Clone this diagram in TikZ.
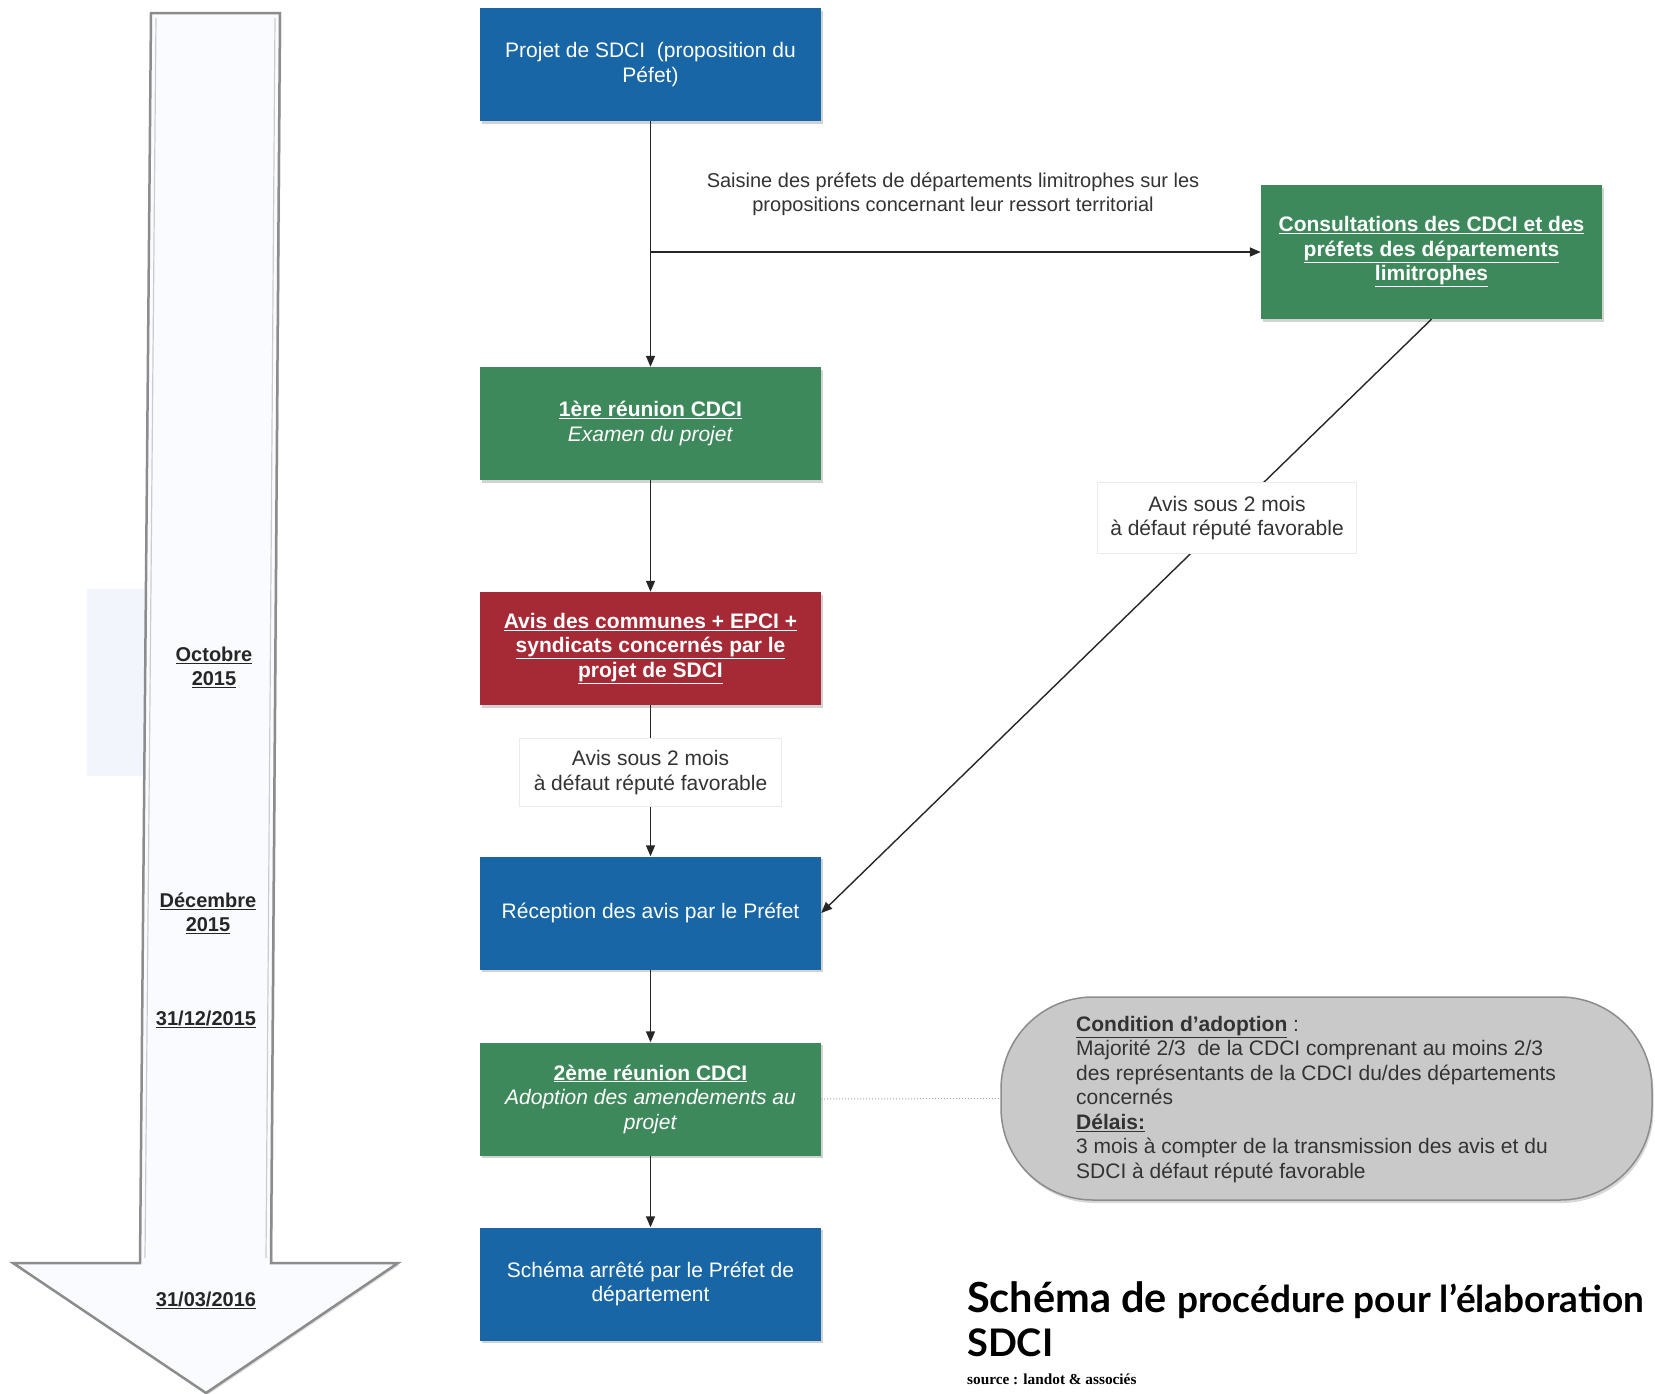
\documentclass[tikz,border=0pt]{standalone}
\usepackage{fontspec}
\setmainfont{Liberation Sans}
\newfontfamily\titlefont{Lato}
\newfontfamily\srcfont{Liberation Serif}
\usetikzlibrary{arrows.meta,shadows}

\definecolor{sdblue}{RGB}{24,102,166}
\definecolor{sdgreen}{RGB}{62,137,92}
\definecolor{sdred}{RGB}{166,42,54}
\definecolor{notefill}{RGB}{201,201,201}
\definecolor{noteedge}{RGB}{140,140,140}
\definecolor{timefill}{RGB}{250,251,254}
\definecolor{timeband}{RGB}{242,246,252}

\begin{document}
\begin{tikzpicture}[x=1pt,y=-1pt,
  every node/.style={font=\fontsize{21}{24.5}\selectfont},
  procbox/.style={minimum width=341pt, minimum height=113pt, text=white,
    align=center, inner sep=4pt,
    drop shadow={shadow xshift=1.5pt, shadow yshift=-2.5pt, opacity=0.35}},
  bluebox/.style={procbox, fill=sdblue},
  greenbox/.style={procbox, fill=sdgreen},
  redbox/.style={procbox, fill=sdred},
  flow/.style={draw=black!85, line width=1.4pt, -{Triangle[length=11pt,width=9pt]}},
  delaybox/.style={fill=white, draw=black!8, align=center, text=black!80, inner sep=3pt},
  datelabel/.style={font=\fontsize{20}{24}\selectfont\bfseries, text=black!85, align=center}
]
\useasboundingbox[fill=white] (0,0) rectangle (1655,1393);

% timeline arrow on the left
\fill[timeband] (87,589) rectangle (200,776);
\draw[draw=black!45, line width=2.5pt, fill=timefill, line join=miter,
  drop shadow={shadow xshift=1.5pt, shadow yshift=-2pt, opacity=0.25}]
  (151,13) -- (280,13) -- (271,1263) -- (398,1263) -- (206,1393)
  -- (13,1263) -- (140,1263) -- cycle;
\draw[draw=black!20, line width=1.2pt] (156,18) -- (145,1258);
\draw[draw=black!20, line width=1.2pt] (275,18) -- (266,1258);

\node[datelabel] (oct) at (214,667) {\underline{Octobre}\\\underline{2015}};
\node[datelabel] (dec) at (208,913) {\underline{Décembre}\\\underline{2015}};
\node[datelabel] (d1) at (206,1019) {\underline{31/12/2015}};
\node[datelabel] (d2) at (206,1300) {\underline{31/03/2016}};

% main column
\node[bluebox] (projet) at (650.5,64.5) {Projet de SDCI\ \ (proposition du\\Péfet)};
\node[greenbox] (cdci1) at (650.5,423.5)
  {\textbf{\underline{1ère réunion CDCI}}\\\textit{Examen du projet}};
\node[redbox] (avis) at (650.5,648.5)
  {\textbf{\underline{Avis des communes + EPCI +}}\\\textbf{\underline{syndicats concernés par le}}\\\textbf{\underline{projet de SDCI}}};
\node[bluebox] (recep) at (650.5,913) {Réception des avis par le Préfet};
\node[greenbox] (cdci2) at (650.5,1099)
  {\textbf{\underline{2ème réunion CDCI}}\\\textit{Adoption des amendements au}\\\textit{projet}};
\node[bluebox] (schema) at (650.5,1284) {Schéma arrêté par le Préfet de\\département};

% neighbouring departments
\node[greenbox, minimum height=134pt] (consult) at (1431.5,252)
  {\textbf{\underline{Consultations des CDCI et des}}\\\textbf{\underline{préfets des départements}}\\\textbf{\underline{limitrophes}}};

% connectors
\coordinate (branch) at (650.5,252);
\draw[flow] (projet.south) -- (cdci1.north);
\draw[flow] (branch) -- (consult.west);
\node[text=black!80, align=center, font=\fontsize{20}{24.5}\selectfont] (saisine) at (953,194)
  {Saisine des préfets de départements limitrophes sur les\\propositions concernant leur ressort territorial};
\draw[flow] (cdci1.south) -- (avis.north);
\draw[flow] (avis.south) -- node[delaybox, pos=0.447, minimum width=262pt, minimum height=68pt] (delay1)
  {Avis sous 2 mois\\à défaut réputé favorable} (recep.north);
\draw[flow] (consult.south) -- node[delaybox, pos=0.335, minimum width=259pt, minimum height=71pt] (delay2)
  {Avis sous 2 mois\\à défaut réputé favorable} (recep.east);
\draw[flow] (recep.south) -- (cdci2.north);
\draw[flow] (cdci2.south) -- (schema.north);

% adoption conditions
\node[draw=noteedge, line width=1.5pt, fill=notefill, rounded corners=92pt,
  minimum width=651pt, minimum height=203pt,
  drop shadow={shadow xshift=1.5pt, shadow yshift=-3pt, opacity=0.3}] (cond) at (1326.5,1098.5) {};
\node[anchor=north west, align=left, text=black!80, inner sep=0pt] (condtext) at (1076,1016)
  {\textbf{\underline{Condition d'adoption}} :\\
   Majorité 2/3\ \ de la CDCI comprenant au moins 2/3\\
   des représentants de la CDCI du/des départements\\
   concernés\\
   \textbf{\underline{Délais:}}\\
   3 mois à compter de la transmission des avis et du\\
   SDCI à défaut réputé favorable};
\draw[draw=black!35, line width=1pt, dotted] (cdci2.east) -- (cond.west);

% caption
\node[anchor=base west, inner sep=0pt, font=\titlefont\bfseries] (title1) at (967,1312)
  {\fontsize{41.5}{44}\selectfont Schéma de \fontsize{37}{44}\selectfont procédure pour l’élaboration};
\node[anchor=base west, inner sep=0pt, font=\titlefont\bfseries\fontsize{38}{40}\selectfont] (title2) at (967,1356) {SDCI};
\node[anchor=base west, inner sep=0pt, font=\srcfont\bfseries\fontsize{15.3}{17}\selectfont] (source) at (967,1384)
  {source : landot \& associés};
\end{tikzpicture}
\end{document}
